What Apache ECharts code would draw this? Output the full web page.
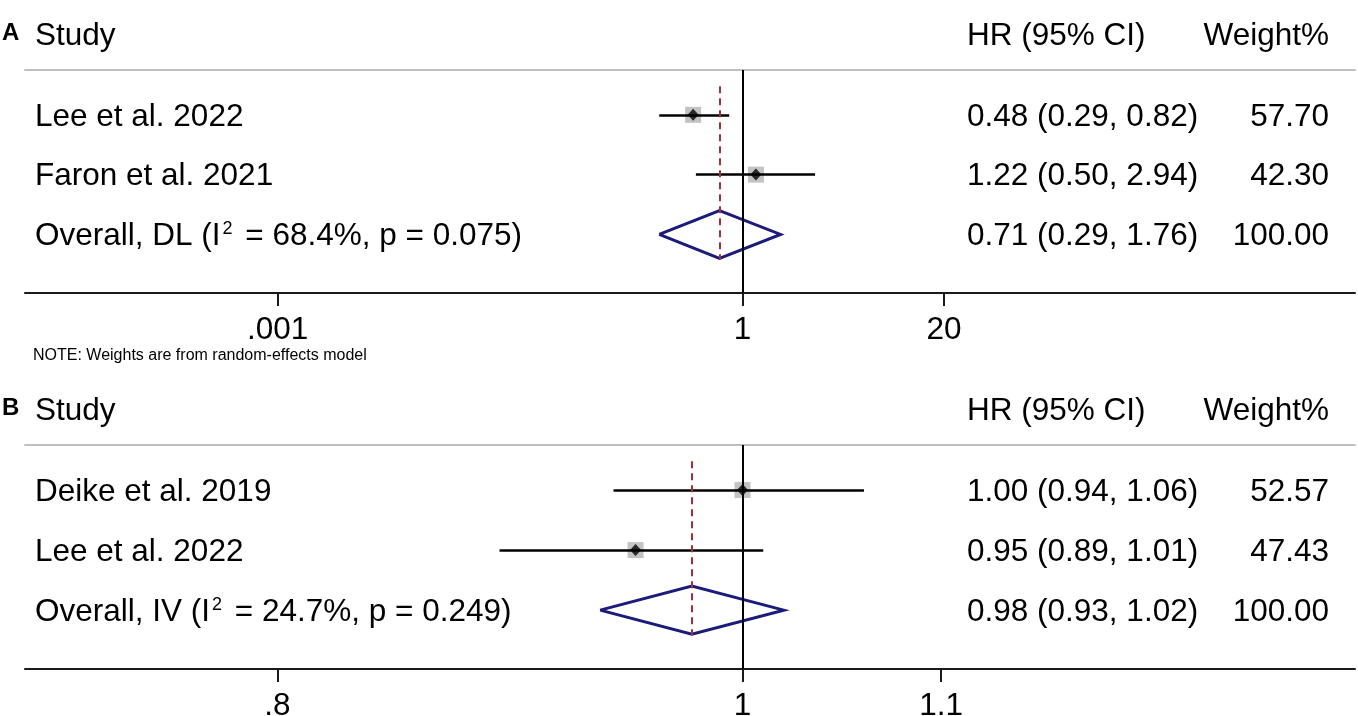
<!DOCTYPE html>
<html><head><meta charset="utf-8">
<script src="https://cdn.jsdelivr.net/npm/echarts@6/dist/echarts.min.js"></script>
<style>html,body{margin:0;padding:0;background:#fff}#c{width:1358px;height:716px}</style>
</head><body><div id="c"></div>
<script>
const FONT = '"Liberation Sans", Arial, Helvetica, sans-serif';

// ---------- Panel A ----------
const studiesA = ['Lee et al. 2022', 'Faron et al. 2021'];
const hrA = [0.48, 1.22];
const lowA = [0.29, 0.50];
const highA = [0.82, 2.94];
const weightA = ['57.70', '42.30'];
const overallTextA = ['Overall, DL (I', '2', ' = 68.4%, p = 0.075)'];  // text, superscript, text
const overallA = [0.71, 0.29, 1.76];        // estimate, low, high
const overallWeightA = '100.00';
const tickValuesA = [0.001, 1, 20];
const tickLabelsA = ['.001', '1', '20'];

// ---------- Panel B ----------
const studiesB = ['Deike et al. 2019', 'Lee et al. 2022'];
const hrB = [1.00, 0.95];
const lowB = [0.94, 0.89];
const highB = [1.06, 1.01];
const weightB = ['52.57', '47.43'];
const overallTextB = ['Overall, IV (I', '2', ' = 24.7%, p = 0.249)'];
const overallB = [0.976, 0.934, 1.020];     // estimate, low, high
const overallWeightB = '100.00';
const tickValuesB = [0.8, 1, 1.1];
const tickLabelsB = ['.8', '1', '1.1'];

const noteText = 'NOTE: Weights are from random-effects model';
const headers = ['Study', 'HR (95% CI)', 'Weight%'];

const L = Math.log10;
const chart = echarts.init(document.getElementById('c'), null, {renderer: 'canvas'});

function fmtCI(e, l, h) { return e.toFixed(2) + ' (' + l.toFixed(2) + ', ' + h.toFixed(2) + ')'; }

const Y_MIN = 0.25, Y_MAX = 3.98;
const FS = 31.5;

function panelAxes(min, max, ticks, labels, gridIndex) {
  const tv = ticks.map(L);
  return [
    {
      type: 'value', gridIndex, position: 'bottom', min, max,
      splitLine: {show: false},
      axisLine: {show: true, onZero: false, lineStyle: {color: '#1a1a1a', width: 2}},
      axisTick: {show: true, customValues: tv, length: 13, lineStyle: {color: '#1a1a1a', width: 2}},
      axisLabel: {
        show: true, customValues: tv, margin: 21, fontSize: FS, fontFamily: FONT, color: '#000',
        formatter: v => { const i = tv.findIndex(t => Math.abs(t - v) < 1e-9); return i >= 0 ? labels[i] : ''; }
      }
    },
    {
      type: 'value', gridIndex, position: 'top', min, max,
      splitLine: {show: false},
      axisLine: {show: true, onZero: false, lineStyle: {color: '#c0c0c0', width: 2}},
      axisTick: {show: false}, axisLabel: {show: false}
    }
  ];
}

function panelSeries(hr, lo, hi, overall, xi, yi) {
  const rows = hr.map((_, i) => i + 1);
  const oRow = hr.length + 1;
  const s = [];
  s.push({
    type: 'scatter', xAxisIndex: xi, yAxisIndex: yi, data: [], silent: true, z: 1,
    markLine: {
      silent: true, symbol: ['none', 'none'], label: {show: false},
      lineStyle: {color: '#000', width: 2, type: 'solid'},
      data: [{xAxis: 0}]
    }
  });
  s.push({
    type: 'lines', coordinateSystem: 'cartesian2d', xAxisIndex: xi, yAxisIndex: yi, z: 3, silent: true,
    lineStyle: {color: '#000', width: 2.7, opacity: 1},
    data: rows.map((r, i) => ({coords: [[L(lo[i]), r], [L(hi[i]), r]]}))
  });
  s.push({
    type: 'scatter', xAxisIndex: xi, yAxisIndex: yi, z: 2, silent: true,
    symbol: 'rect', symbolSize: 16, itemStyle: {color: '#b4b4b4'},
    data: rows.map((r, i) => [L(hr[i]), r])
  });
  s.push({
    type: 'scatter', xAxisIndex: xi, yAxisIndex: yi, z: 4, silent: true,
    symbol: 'diamond', symbolSize: [11, 12], itemStyle: {color: '#000'},
    data: rows.map((r, i) => [L(hr[i]), r])
  });
  s.push({
    type: 'lines', coordinateSystem: 'cartesian2d', xAxisIndex: xi, yAxisIndex: yi, z: 5, silent: true,
    lineStyle: {color: '#a0303c', width: 2, type: [7, 5], opacity: 1},
    data: [{coords: [[L(overall[0]), 0.52], [L(overall[0]), oRow + 0.42]]}]
  });
  const e = L(overall[0]), a = L(overall[1]), b = L(overall[2]);
  s.push({
    type: 'lines', coordinateSystem: 'cartesian2d', polyline: true, xAxisIndex: xi, yAxisIndex: yi, z: 4, silent: true,
    lineStyle: {color: '#1b1b7c', width: 3, opacity: 1},
    data: [{coords: [[a, oRow], [e, oRow - 0.4], [b, oRow], [e, oRow + 0.4], [a, oRow]]}]
  });
  return s;
}

const axesA = panelAxes(-4.631, 3.953, tickValuesA, tickLabelsA, 0);
const axesB = panelAxes(-0.14947, 0.12760, tickValuesB, tickLabelsB, 1);

const option = {
  animation: false,
  backgroundColor: '#fff',
  grid: [
    {left: 25, right: 3, top: 70, height: 223, containLabel: false, outerBoundsMode: 'none'},
    {left: 25, right: 3, top: 445, height: 224, containLabel: false, outerBoundsMode: 'none'}
  ],
  xAxis: [axesA[0], axesA[1], axesB[0], axesB[1]],
  yAxis: [
    {type: 'value', gridIndex: 0, inverse: true, min: Y_MIN, max: Y_MAX, show: false},
    {type: 'value', gridIndex: 1, inverse: true, min: Y_MIN, max: Y_MAX, show: false}
  ],
  series: [].concat(
    panelSeries(hrA, lowA, highA, overallA, 0, 0),
    panelSeries(hrB, lowB, highB, overallB, 2, 1)
  )
};
chart.setOption(option);

// ---------- text columns ----------
const COL_STUDY = 35, COL_CI = 967, COL_W = 1329, DY = 2;
function txt(text, x, y, align, size, bold, rich) {
  const style = {
    text, x: 0, y: 0, fill: '#000', align, verticalAlign: 'middle',
    textAlign: align, textVerticalAlign: 'middle',
    font: (bold ? 'bold ' : '') + size + 'px ' + FONT
  };
  if (rich) style.rich = rich;
  return {type: 'text', x, y, silent: true, z: 10, style};
}
const supRich = {
  n: {fontSize: FS, fontFamily: FONT, fill: '#000', verticalAlign: 'middle'},
  s: {fontSize: 18, fontFamily: FONT, fill: '#000', verticalAlign: 'top', padding: [0, 4, 0, 2]}
};
function panelText(yi, letter, studies, hr, lo, hi, w, oText, overall, oW) {
  const g = [];
  const yOf = r => chart.convertToPixel({yAxisIndex: yi}, r) + DY;
  const hy = yOf(-0.35);
  g.push(txt(letter, 2, hy - 3, 'left', 24, true));
  g.push(txt(headers[0], COL_STUDY, hy, 'left', FS));
  g.push(txt(headers[1], COL_CI, hy, 'left', FS));
  g.push(txt(headers[2], COL_W, hy, 'right', FS));
  studies.forEach((s, i) => {
    const y = yOf(i + 1);
    g.push(txt(s, COL_STUDY, y, 'left', FS));
    g.push(txt(fmtCI(hr[i], lo[i], hi[i]), COL_CI, y, 'left', FS));
    g.push(txt(w[i], COL_W, y, 'right', FS));
  });
  const oy = yOf(studies.length + 1);
  g.push(txt('{n|' + oText[0] + '}{s|' + oText[1] + '}{n|' + oText[2] + '}', COL_STUDY, oy, 'left', FS, false, supRich));
  g.push(txt(fmtCI(overall[0], overall[1], overall[2]), COL_CI, oy, 'left', FS));
  g.push(txt(oW, COL_W, oy, 'right', FS));
  return g;
}
const graphics = [].concat(
  panelText(0, 'A', studiesA, hrA, lowA, highA, weightA, overallTextA, overallA, overallWeightA),
  panelText(1, 'B', studiesB, hrB, lowB, highB, weightB, overallTextB, overallB, overallWeightB)
);
graphics.push(txt(noteText, 33, chart.convertToPixel({yAxisIndex: 0}, Y_MAX) + 63, 'left', 16));
chart.setOption({graphic: graphics});
</script>
</body></html>
